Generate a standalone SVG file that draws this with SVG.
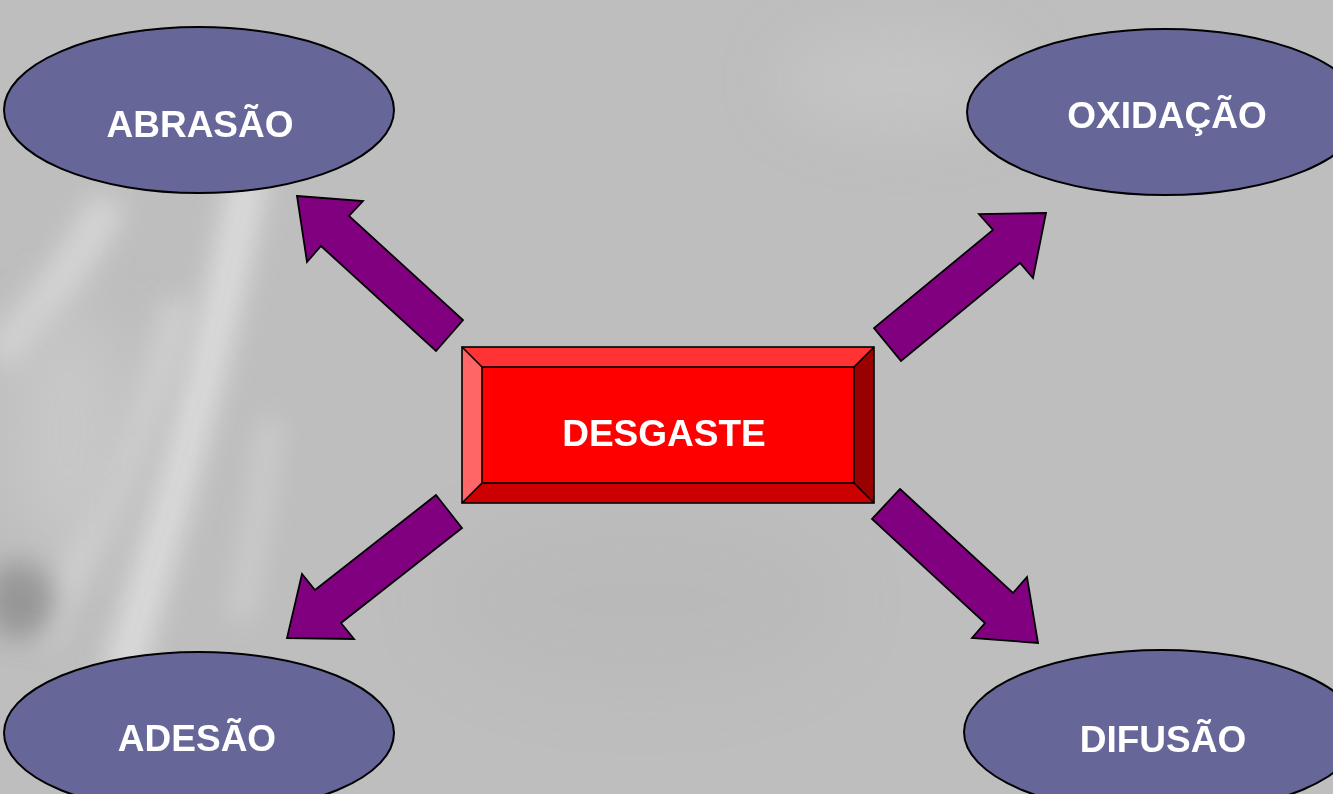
<svg xmlns="http://www.w3.org/2000/svg" width="1333" height="794" viewBox="0 0 1333 794">
  <defs>
    <filter id="soft" filterUnits="userSpaceOnUse" x="-100" y="-100" width="1533" height="994">
      <feGaussianBlur stdDeviation="14"/>
    </filter>
    <filter id="softer" filterUnits="userSpaceOnUse" x="-100" y="-100" width="1533" height="994">
      <feGaussianBlur stdDeviation="30"/>
    </filter>
    <style>
      .node { fill: #666699; stroke: #000; stroke-width: 2; }
      .label { font-family: "Liberation Sans", Arial, sans-serif; font-weight: bold; font-size: 37px; fill: #fff; text-anchor: middle; }
      .arrow { fill: #800080; stroke: #000; stroke-width: 1.8; stroke-linejoin: miter; }
      .edge { stroke: #000; stroke-width: 1.6; }
    </style>
  </defs>

  <!-- background: grey photographic texture -->
  <rect x="0" y="0" width="1333" height="794" fill="#bebebe"/>
  <g id="texture" opacity="0.85">
    <path d="M250 170 C 220 330, 180 480, 120 680" stroke="#e2e2e2" stroke-width="36" fill="none" filter="url(#soft)"/>
    <path d="M110 200 C 80 260, 40 310, 0 360" stroke="#dadada" stroke-width="36" fill="none" filter="url(#soft)"/>
    <path d="M180 300 C 150 420, 90 540, 40 640" stroke="#d6d6d6" stroke-width="28" fill="none" filter="url(#soft)"/>
    <path d="M270 420 C 260 520, 250 560, 240 620" stroke="#d8d8d8" stroke-width="16" fill="none" filter="url(#soft)"/>
    <ellipse cx="20" cy="600" rx="35" ry="40" fill="#909090" filter="url(#soft)"/>
    <ellipse cx="70" cy="430" rx="60" ry="120" fill="#c9c9c9" filter="url(#softer)"/>
    <ellipse cx="900" cy="80" rx="120" ry="50" fill="#c6c6c6" filter="url(#softer)"/>
    <ellipse cx="640" cy="600" rx="200" ry="90" fill="#b9b9b9" filter="url(#softer)"/>
  </g>

  <!-- connectors: block arrows from the centre box -->
  <g id="connectors">
    <polygon class="arrow" points="297,196 363,201 349,216 463,320 436,351 321,246 307,262"/>
    <polygon class="arrow" points="1046,213 979,214 993,230 874,328 901,361 1020,263 1033,278"/>
    <polygon class="arrow" points="436,495 462,528 341,623 354,639 287,638 302,574 315,590"/>
    <polygon class="arrow" points="900,489 1013,593 1027,577 1038,643 972,638 985,623 872,519"/>
  </g>

  <!-- centre: bevelled button -->
  <g id="desgaste">
    <polygon points="462,347 874,347 854,367 482,367" fill="#ff3333"/>
    <polygon points="462,347 482,367 482,483 462,503" fill="#ff6666"/>
    <polygon points="874,347 874,503 854,483 854,367" fill="#990000"/>
    <polygon points="462,503 482,483 854,483 874,503" fill="#cc0000"/>
    <rect x="482" y="367" width="372" height="116" fill="#ff0000" stroke="#000" stroke-width="1.6"/>
    <line class="edge" x1="462" y1="347" x2="482" y2="367"/>
    <line class="edge" x1="874" y1="347" x2="854" y2="367"/>
    <line class="edge" x1="462" y1="503" x2="482" y2="483"/>
    <line class="edge" x1="874" y1="503" x2="854" y2="483"/>
    <rect x="462" y="347" width="412" height="156" fill="none" stroke="#000" stroke-width="1.6"/>
    <text class="label" x="664" y="446">DESGASTE</text>
  </g>

  <g id="abrasao">
    <ellipse class="node" cx="199" cy="110" rx="195" ry="83"/>
    <text class="label" x="200" y="137">ABRASÃO</text>
  </g>

  <g id="oxidacao">
    <ellipse class="node" cx="1165" cy="112" rx="198" ry="83"/>
    <text class="label" x="1167" y="128">OXIDAÇÃO</text>
  </g>

  <g id="adesao">
    <ellipse class="node" cx="199" cy="733" rx="195" ry="81"/>
    <text class="label" x="197" y="751">ADESÃO</text>
  </g>

  <g id="difusao">
    <ellipse class="node" cx="1162" cy="732" rx="198" ry="82"/>
    <text class="label" x="1163" y="752">DIFUSÃO</text>
  </g>
</svg>
